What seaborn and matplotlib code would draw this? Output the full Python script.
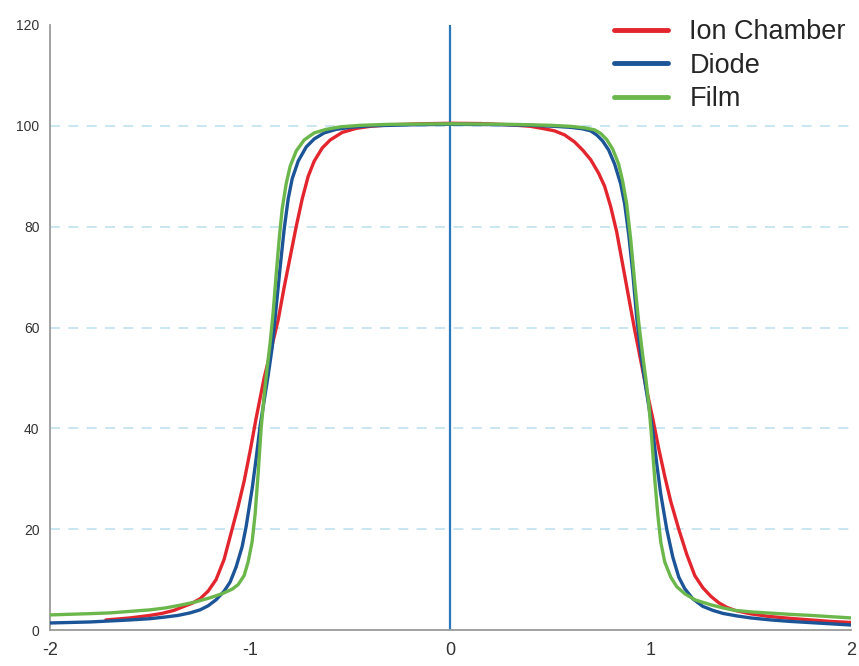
import pandas as pd
import matplotlib
matplotlib.use("Agg")
import matplotlib.pyplot as plt
import seaborn as sns

# Ion Chamber profile (red)
ion_x = [-1.72, -1.6, -1.5, -1.44, -1.38, -1.33, -1.29, -1.25, -1.21, -1.17, -1.13,
         -1.09, -1.06, -1.03, -1.0, -0.97, -0.93, -0.89, -0.86, -0.83, -0.8, -0.77,
         -0.74, -0.71, -0.68, -0.64, -0.6, -0.54, -0.47, -0.4, -0.3, -0.15, 0.0,
         0.15, 0.3, 0.4, 0.47, 0.52, 0.57, 0.62, 0.66, 0.7, 0.74, 0.77, 0.8, 0.83,
         0.86, 0.89, 0.92, 0.95, 0.98, 1.01, 1.04, 1.07, 1.1, 1.14, 1.18, 1.22,
         1.26, 1.3, 1.34, 1.38, 1.42, 1.5, 1.59, 1.7, 1.8, 1.9, 2.0]
ion_y = [2.0, 2.4, 2.9, 3.3, 3.9, 4.7, 5.3, 6.2, 7.7, 10.0, 14.0,
         20.0, 24.5, 29.5, 35.5, 42.0, 50.0, 56.5, 61.5, 68.0, 74.0, 80.0,
         85.5, 90.0, 93.0, 95.6, 97.2, 98.7, 99.5, 99.9, 100.2, 100.4, 100.5,
         100.45, 100.2, 99.9, 99.4, 99.0, 98.2, 96.8, 95.2, 93.3, 90.6, 88.0, 84.0, 79.0,
         72.5, 66.0, 59.5, 53.5, 47.5, 42.0, 36.0, 30.5, 25.5, 20.0, 15.0, 10.8,
         8.4, 6.7, 5.4, 4.5, 3.9, 3.2, 2.7, 2.3, 2.0, 1.7, 1.5]

# Diode profile (blue)
diode_x = [-2.0, -1.8, -1.6, -1.5, -1.42, -1.36, -1.3, -1.25, -1.21, -1.17, -1.13,
           -1.1, -1.07, -1.04, -1.02, -0.99, -0.97, -0.95, -0.93, -0.91, -0.89, -0.87,
           -0.85, -0.83, -0.81, -0.79, -0.76, -0.72, -0.68, -0.63, -0.57, -0.5, -0.4,
           -0.2, 0.0, 0.2, 0.4, 0.52, 0.6, 0.66, 0.7, 0.73, 0.76, 0.79, 0.82, 0.85,
           0.87, 0.89, 0.91, 0.93, 0.95, 0.97, 0.99, 1.01, 1.03, 1.05, 1.08, 1.11,
           1.14, 1.17, 1.21, 1.26, 1.31, 1.36, 1.43, 1.5, 1.6, 1.7, 1.85, 2.0]
diode_y = [1.4, 1.6, 2.0, 2.25, 2.6, 2.9, 3.4, 4.0, 4.8, 6.0, 7.7,
           9.5, 12.5, 16.5, 20.5, 28.0, 34.0, 40.5, 45.5, 50.5, 56.0, 64.0,
           72.0, 79.5, 85.5, 89.5, 93.0, 95.8, 97.4, 98.6, 99.3, 99.7, 100.0,
           100.2, 100.3, 100.25, 100.1, 99.9, 99.7, 99.4, 99.0, 98.2, 97.0, 95.2, 92.4, 88.5,
           84.5, 78.5, 71.0, 62.0, 55.0, 49.5, 44.5, 39.5, 33.0, 27.0, 20.0, 14.5,
           10.5, 8.2, 6.2, 4.7, 3.9, 3.3, 2.8, 2.4, 2.0, 1.7, 1.35, 1.0]

# Film profile (green)
film_x = [-2.0, -1.8, -1.7, -1.6, -1.5, -1.42, -1.34, -1.27, -1.2, -1.14, -1.09,
          -1.06, -1.03, -1.01, -0.99, -0.975, -0.96, -0.945, -0.93, -0.915, -0.9,
          -0.885, -0.87, -0.855, -0.84, -0.82, -0.8, -0.77, -0.73, -0.68, -0.62,
          -0.55, -0.45, -0.3, 0.0, 0.3, 0.5, 0.6, 0.67, 0.72, 0.75, 0.78, 0.81, 0.84,
          0.86, 0.88, 0.9, 0.92, 0.94, 0.96, 0.975, 0.99, 1.005, 1.02, 1.035, 1.05,
          1.07, 1.1, 1.13, 1.17, 1.22, 1.3, 1.36, 1.42, 1.5, 1.6, 1.7, 1.8, 1.9, 2.0]
film_y = [3.0, 3.25, 3.4, 3.7, 4.0, 4.4, 5.0, 5.6, 6.4, 7.2, 8.1,
          9.0, 10.8, 13.5, 17.5, 23.0, 31.0, 40.0, 46.5, 52.0, 57.0,
          63.0, 70.5, 77.5, 83.5, 88.5, 92.0, 95.0, 97.2, 98.6, 99.3,
          99.8, 100.1, 100.3, 100.4, 100.3, 100.1, 99.9, 99.6, 99.2, 98.5, 97.3, 95.4, 92.4,
          89.0, 84.5, 77.5, 69.0, 61.0, 54.5, 50.0, 45.0, 38.0, 30.0, 23.0, 17.5,
          13.5, 10.5, 8.6, 7.2, 6.0, 5.0, 4.4, 3.9, 3.6, 3.35, 3.1, 2.9, 2.65, 2.4]

labels = ["Ion Chamber", "Diode", "Film"]
colors = ["#e3262e", "#1c5597", "#6cb74c"]
y_ticks = [0, 20, 40, 60, 80, 100, 120]
x_ticks = [-2, -1, 0, 1, 2]

frames = []
for name, xs, ys in zip(labels, [ion_x, diode_x, film_x], [ion_y, diode_y, film_y]):
    frames.append(pd.DataFrame({"x": xs, "dose": ys, "detector": name}))
data = pd.concat(frames, ignore_index=True)

sns.set_style("white")
plt.rcParams["font.family"] = ["Liberation Sans", "DejaVu Sans"]

fig = plt.figure(figsize=(8.59, 6.66), dpi=100)
ax = fig.add_axes([0.058, 0.054, 0.9327, 0.9085])

# dashed horizontal guides
for v in y_ticks[1:-1]:
    ax.axhline(v, color="#bfe2ef", lw=1.2, ls=(0, (6, 5)), zorder=0)

ax.plot([0, 0], [0, 120], color="#2a77bb", lw=1.6, zorder=1)

sns.lineplot(data=data, x="x", y="dose", hue="detector", palette=colors,
             estimator=None, sort=False, lw=2.4, ax=ax, zorder=3)
for line in ax.get_lines():
    line.set_solid_joinstyle("round")

ax.set_xlim(-2, 2)
ax.set_ylim(0, 120)
ax.set_xticks(x_ticks)
ax.set_xticklabels([str(t) for t in x_ticks])
ax.set_yticks(y_ticks)
ax.set_xlabel("")
ax.set_ylabel("")
ax.tick_params(axis="x", labelsize=13, colors="#333333", length=5, width=1, color="#999999")
ax.tick_params(axis="y", labelsize=10, colors="#333333", length=4, width=1, color="#999999")

sns.despine(ax=ax)
for side in ["left", "bottom"]:
    ax.spines[side].set_color("#9a9a9a")
    ax.spines[side].set_linewidth(1.3)

ax.legend(loc="upper right", bbox_to_anchor=(1.024, 1.05), frameon=False,
          fontsize=19.5, handlelength=2.0, labelspacing=0.28, handletextpad=0.8)
for line in ax.get_legend().get_lines():
    line.set_linewidth(3.5)

fig.savefig("out.png", dpi=100)
